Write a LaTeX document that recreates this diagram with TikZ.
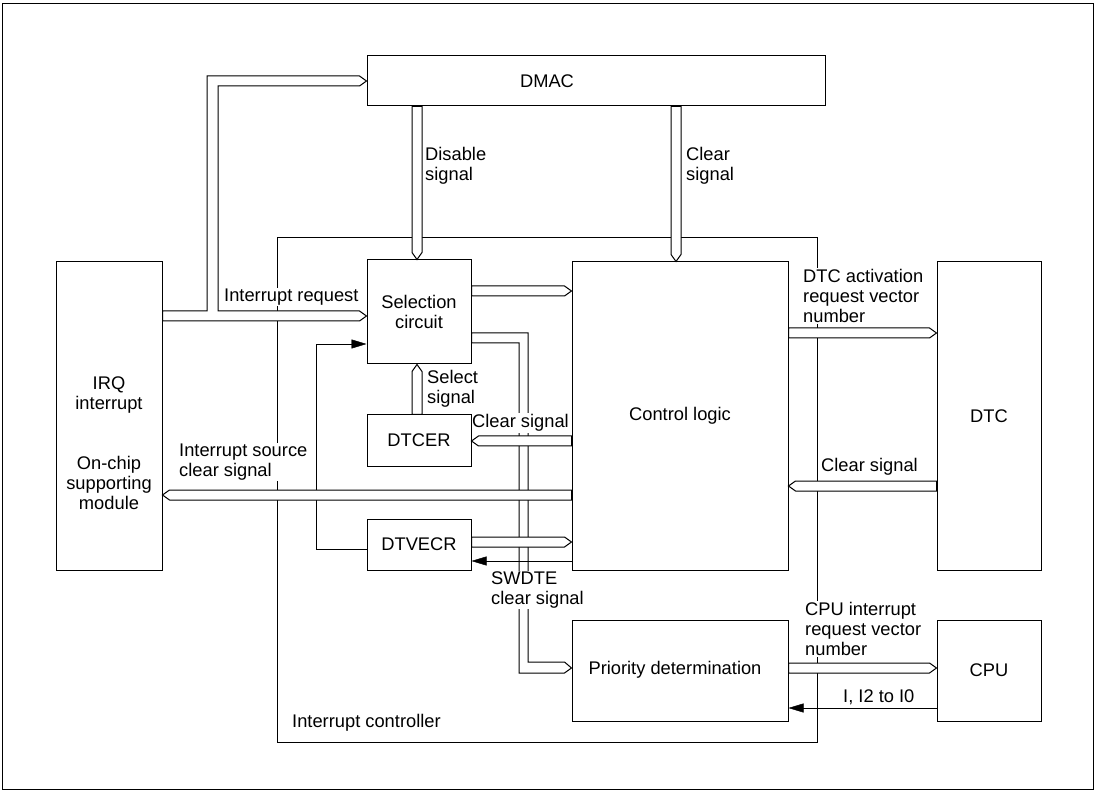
\documentclass[tikz,border=0pt]{standalone}
\usepackage{fontspec}
\setmainfont{Liberation Sans}
\usetikzlibrary{arrows.meta}
\pgfdeclarelayer{bg}
\pgfdeclarelayer{fg}
\pgfsetlayers{bg,main,fg}
\begin{document}
\begin{tikzpicture}[x=1pt,y=-1pt,line width=1pt,
  every node/.style={font=\fontsize{18.3}{20}\selectfont, inner sep=0pt},
  box/.style={draw=black, line width=1pt, inner sep=0pt},
  lab/.style={fill=white, inner sep=1pt, anchor=west, align=left},
  bus/.style={draw=black, line width=1pt, preaction={fill=white}},
  arr/.style={draw=black, -{Triangle[length=15pt,width=9pt]}},
  busR/.style={to path={([yshift=5pt]\tikztostart) -- ([xshift=-7pt,yshift=5pt]\tikztotarget) -- (\tikztotarget) -- ([xshift=-7pt,yshift=-5pt]\tikztotarget) -- ([yshift=-5pt]\tikztostart) -- cycle}},
  busL/.style={to path={([yshift=5pt]\tikztostart) -- ([xshift=7pt,yshift=5pt]\tikztotarget) -- (\tikztotarget) -- ([xshift=7pt,yshift=-5pt]\tikztotarget) -- ([yshift=-5pt]\tikztostart) -- cycle}},
  busD/.style={to path={([xshift=-5pt]\tikztostart) -- ([xshift=-5pt,yshift=7pt]\tikztotarget) -- (\tikztotarget) -- ([xshift=5pt,yshift=7pt]\tikztotarget) -- ([xshift=5pt]\tikztostart) -- cycle}},
  busU/.style={to path={([xshift=-5pt]\tikztostart) -- ([xshift=-5pt,yshift=-7pt]\tikztotarget) -- (\tikztotarget) -- ([xshift=5pt,yshift=-7pt]\tikztotarget) -- ([xshift=5pt]\tikztostart) -- cycle}}]
\useasboundingbox (0,0) rectangle (1098,791);

% outer frame and interrupt controller boundary
\begin{pgfonlayer}{bg}
\draw (2,3) rectangle (1093,789);
\draw (277,237) rectangle (817,742);
\end{pgfonlayer}

% boxes
\begin{pgfonlayer}{fg}
\node[box, minimum width=458pt, minimum height=50pt] (dmac) at (596,81) {};
\node[box, minimum width=106pt, minimum height=308pt] (irq) at (109,416) {};
\node[box, minimum width=104pt, minimum height=104pt, align=center] (sel) at (419,312) {Selection\\circuit};
\node[box, minimum width=216pt, minimum height=308pt] (ctl) at (680,416) {Control logic};
\node[box, minimum width=104pt, minimum height=308pt] (dtc) at (989,416) {DTC};
\node[box, minimum width=104pt, minimum height=51pt] (dtcer) at (419,440.5) {DTCER};
\node[box, minimum width=104pt, minimum height=51pt] (dtvecr) at (419,544.5) {DTVECR};
\node[box, minimum width=216pt, minimum height=101pt] (pri) at (680,670.5) {};
\node[box, minimum width=104pt, minimum height=101pt] (cpu) at (989,670.5) {CPU};
\node (dmactext) at (547,81) {DMAC};
\node (pritext) at (675,670) {Priority determination};
\node[align=center] (irqtext) at (109,395) {IRQ\\interrupt};
\node[align=center] (ocsm) at (109,483) {On-chip\\supporting\\module};
\end{pgfonlayer}

% selection circuit -> priority determination bus
\path[bus] (sel.east |- 0,333) -- (528,333) -- (528,662) -- ([xshift=-7pt]pri.west |- 0,662)
  -- (pri.west |- 0,668) -- ([xshift=-7pt]pri.west |- 0,673) -- (519,673) -- (519,343)
  -- (sel.east |- 0,343) -- cycle;

% single-line signals
\draw[arr] (dtvecr.west |- 0,549) -- (316,549) -- (316,344) -- (sel.west |- 0,344);
\draw[arr] (ctl.west |- 0,561) -- (dtvecr.east |- 0,561);
\draw[arr] (cpu.west |- 0,708) -- (pri.east |- 0,708);

% interrupt request bus with branch to DMAC
\path[bus] (irq.east |- 0,311) -- (207,311) -- (207,76) -- ([xshift=-7pt]dmac.west |- 0,76)
  -- (dmac.west |- 0,81) -- ([xshift=-7pt]dmac.west |- 0,86) -- (218,86) -- (218,311)
  -- ([xshift=-7pt]sel.west |- 0,311) -- (sel.west |- 0,316) -- ([xshift=-7pt]sel.west |- 0,321)
  -- (irq.east |- 0,321) -- cycle;

% buses
\path[bus] (dmac.south -| 417,0) to[busD] (sel.north -| 417,0);
\path[bus] (dmac.south -| 676,0) to[busD] (ctl.north -| 676,0);
\path[bus] (sel.east |- 0,291) to[busR] (ctl.west |- 0,291);
\path[bus] (dtcer.north -| 417,0) to[busU] (sel.south -| 417,0);
\path[bus] (ctl.west |- 0,441) to[busL] (dtcer.east |- 0,441);
\path[bus] (ctl.west |- 0,495) to[busL] (irq.east |- 0,495);
\path[bus] (dtvecr.east |- 0,542) to[busR] (ctl.west |- 0,542);
\path[bus] (ctl.east |- 0,333) to[busR] (dtc.west |- 0,333);
\path[bus] (dtc.west |- 0,486) to[busL] (ctl.east |- 0,486);
\path[bus] (pri.east |- 0,668) to[busR] (cpu.west |- 0,668);

% labels
\node[lab] (l1) at (424,166) {Disable\\signal};
\node[lab] (l2) at (685,166) {Clear\\signal};
\node[lab] (l3) at (223,297) {Interrupt request};
\node[lab] (l4) at (426,389) {Select\\signal};
\node[lab] (l5) at (471,423) {Clear signal};
\node[lab] (l6) at (178,462) {Interrupt source\\clear signal};
\node[lab] (l7) at (490,590) {SWDTE\\clear signal};
\node[lab] (l8) at (802,296) {DTC activation\\request vector\\number};
\node[lab] (l9) at (820,467) {Clear signal};
\node[lab] (l10) at (804,629) {CPU interrupt\\request vector\\number};
\node[lab] (l11) at (842,697) {I, I2 to I0};
\node[lab] (l12) at (291,723) {Interrupt controller};
\end{tikzpicture}
\end{document}
